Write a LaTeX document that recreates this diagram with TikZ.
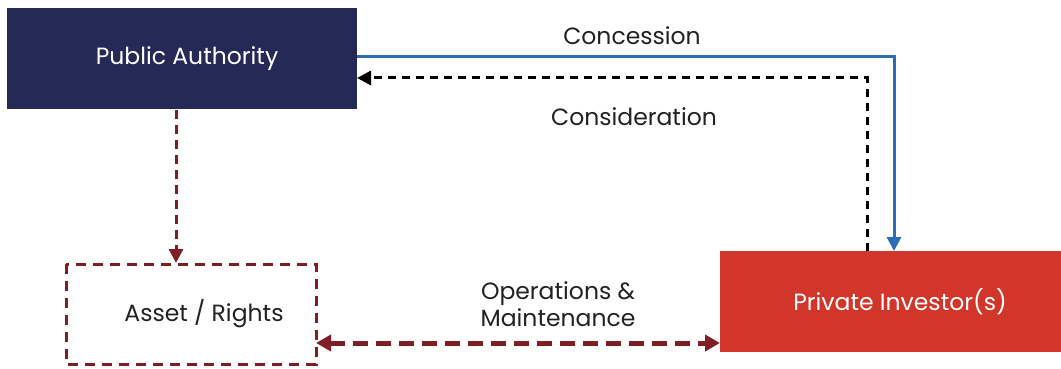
\documentclass[tikz,border=0pt]{standalone}
\usepackage{fontspec}
\setmainfont{Poppins}
\usetikzlibrary{arrows.meta}
\definecolor{navy}{HTML}{242956}
\definecolor{bred}{HTML}{D2352A}
\definecolor{dred}{HTML}{7F1F25}
\definecolor{lblue}{HTML}{2A6EB8}
\definecolor{txt}{HTML}{222222}
\begin{document}
\begin{tikzpicture}[x=1pt,y=-1pt,
  fnt/.style={font=\fontsize{23.5}{27}\selectfont},
  lbl/.style={fnt,text=txt,align=center},
  wlbl/.style={fnt,text=white},
  tip/.style={-{Triangle[length=14pt,width=14pt]}}]
\useasboundingbox (0,0) rectangle (1061,369);
\fill[navy] (7,8) rectangle (357,109);
\node[wlbl] (pa) at (187,59) {Public Authority};
\coordinate (paR) at (357,57);
\fill[bred] (720,251) rectangle (1061,352);
\node[wlbl] (pi) at (900,302) {Private Investor(s)};
\draw[dred,line width=3pt,dash pattern=on 10pt off 7pt] (66,264) rectangle (316,364);
\node[lbl] (ar) at (204,314) {Asset / Rights};
% blue concession
\coordinate (b1) at (894,57);
\coordinate (b2) at (894,251);
\draw[lblue,line width=3pt,tip] (paR) -- (b1) -- (b2);
% black consideration
\coordinate (k0) at (867,251);
\coordinate (k1) at (867,78);
\coordinate (k2) at (357,78);
\draw[black,line width=3pt,dash pattern=on 8pt off 6pt,tip] (k0) -- (k1) -- (k2);
% red vertical
\coordinate (r0) at (176,110);
\coordinate (r1) at (176,263);
\draw[dred,line width=3pt,dash pattern=on 9pt off 6pt,tip] (r0) -- (r1);
% O&M
\coordinate (o0) at (316,343);
\coordinate (o1) at (720,343);
\draw[dred,line width=5pt,dash pattern=on 15pt off 8pt,{Triangle[length=15pt,width=16pt]}-{Triangle[length=15pt,width=16pt]}] (o0) -- (o1);
\node[lbl] (con) at (632,36) {Concession};
\node[lbl] (cns) at (634,117) {Consideration};
\node[lbl] (om) at (558,304) {Operations \&\\Maintenance};
\end{tikzpicture}
\end{document}
